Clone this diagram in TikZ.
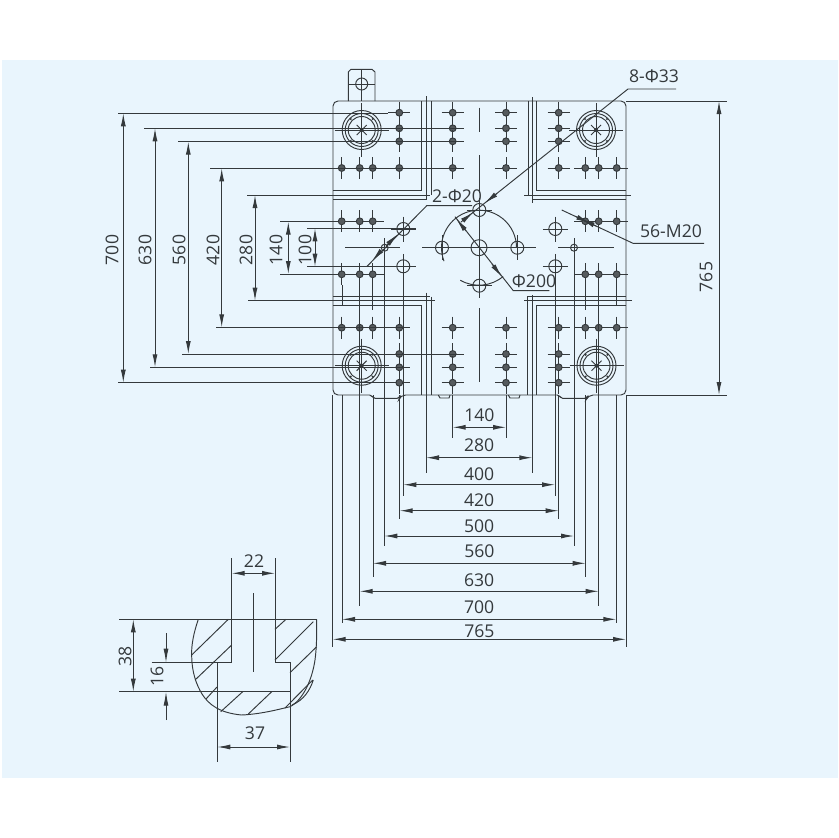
\documentclass[tikz,border=0pt]{standalone}
\usepackage{fontspec}
\setmainfont{Open Sans}
\usetikzlibrary{arrows.meta}
\definecolor{panelblue}{HTML}{E9F5FD}
\definecolor{inkgray}{HTML}{34393C}
\definecolor{holegray}{HTML}{565B5E}
\tikzstyle{thinline} = [draw=inkgray, line width=0.95pt]
\tikzstyle{heavyline} = [draw=inkgray, line width=0.95pt]
\tikzstyle{dimline} = [draw=inkgray, line width=0.95pt, {Latex[length=13pt,width=5pt]}-{Latex[length=13pt,width=5pt]}]
\tikzstyle{pointer} = [draw=inkgray, line width=0.95pt, -{Latex[length=14pt,width=5pt]}]
\tikzstyle{dimtext} = [text=inkgray, font=\fontsize{17.6}{20}\selectfont, inner sep=0pt]
\tikzstyle{sidetext} = [dimtext, rotate=90]
\newcommand{\holemark}[2]{
\draw[thinline] (#1-11,#2) -- (#1+11,#2) (#1,#2-11) -- (#1,#2+11);
\draw[thinline, fill=holegray] (#1,#2) circle [radius=3.4pt];
}
\newcommand{\borehole}[3]{
\draw[thinline] (#1-#3-6,#2) -- (#1+#3+6,#2) (#1,#2-#3-6) -- (#1,#2+#3+6);
\draw[heavyline] (#1,#2) circle [radius=#3 pt];
}
\newcommand{\tiebar}[2]{
\draw[thinline] (#1-27,#2) -- (#1+27,#2) (#1,#2-27) -- (#1,#2+27);
\draw[thinline] (#1,#2) circle [radius=19.5pt];
\draw[thinline] (#1,#2) circle [radius=16.5pt];
\draw[thinline] (#1,#2) circle [radius=13.5pt];
\draw[heavyline] (#1-5,#2-5) -- (#1+5,#2+5) (#1-5,#2+5) -- (#1+5,#2-5);
\fill[inkgray] (#1-11,#2-11) circle [radius=1.2pt] (#1+11,#2-11) circle [radius=1.2pt]
  (#1-11,#2+11) circle [radius=1.2pt] (#1+11,#2+11) circle [radius=1.2pt] (#1,#2) circle [radius=2pt];
}
% name, left x, right x, line y, label y, end of the witness lines
\newcommand{\widthdim}[6]{
\draw[thinline] (#2,395) -- (#2,#6) (#3,395) -- (#3,#6);
\draw[dimline] (#2,#4) -- (#3,#4);
\node[dimtext] (w#1) at ({(#2+#3)/2},#5) {#1};
}
% name, top y, bottom y, line x, label x, start of top and bottom witness lines
\newcommand{\heightdim}[7]{
\draw[thinline] (#6,#2) -- (333,#2) (#7,#3) -- (333,#3);
\draw[dimline] (#4,#2) -- (#4,#3);
\node[sidetext] (h#1) at (#5,250) {#1};
}
\begin{document}
\begin{tikzpicture}[x=1pt,y=-1pt]
\useasboundingbox (0,0) rectangle (838,838);
\fill[panelblue] (2,60) rectangle (838,778);

% plate
\draw[heavyline, rounded corners=5pt] (333,101) -- (626,101) -- (626,395) -- (588,395) [rounded corners=2pt] -- (586.7,398.3) -- (560.5,398.3) -- (559.3,395) [rounded corners=5pt] -- (400.5,395) [rounded corners=2pt] -- (399.3,398.3) -- (373,398.3) -- (371.7,395) [rounded corners=5pt] -- (333,395) -- cycle;
\draw[heavyline] (348.3,101) -- (348.3,72) -- (351,69.3) -- (372,69.3) -- (375,72) -- (375,101);
\draw[thinline] (348.3,84) -- (375,84) (361.7,69.3) -- (361.7,101);
\draw[heavyline] (361.7,84) circle [radius=6pt];
\draw[thinline] (438.3,395) -- (440,398) -- (449,398) -- (450,395) (508.3,395) -- (510,398) -- (519,398) -- (520,395);

% slots
\draw[thinline] (333,190.7) -- (421.7,190.7) -- (421.7,101) (333,199.3) -- (426,199.3) (431,101) -- (431,195);
\draw[thinline] (320,195) -- (430,195) (426,96) -- (426,200);
\draw[thinline] (626,190.7) -- (536.7,190.7) -- (536.7,101) (626,199.3) -- (532.3,199.3) (528.3,101) -- (528.3,195);
\draw[thinline] (630.7,195) -- (524,195) (532.3,97) -- (532.3,202.7);
\draw[thinline] (333,305) -- (421.7,305) -- (421.7,395) (333,296.7) -- (430,296.7) (431,296.7) -- (431,395);
\draw[thinline] (320,300.7) -- (435,300.7) (426,292.7) -- (426,395);
\draw[thinline] (626,305) -- (536.7,305) -- (536.7,395) (626,296.7) -- (527.3,296.7) -- (527.3,395);
\draw[thinline] (632,300.7) -- (524,300.7) (532.3,295) -- (532.3,395);

% centre lines
\draw[thinline] (479,107.7) -- (479,131.7) (479,155) -- (479,193) (479,223) -- (479,280) (479,308.3) -- (479,381.7);
\draw[thinline] (345,247.7) -- (400,247.7) (422,247.7) -- (468,247.7) (490,247.7) -- (536,247.7) (558,247.7) -- (614,247.7);

% threaded holes
\foreach \xpos in {399.3,452.7,506,558.7} {
  \foreach \ypos in {112.7,128.3,141.3,168,327.7,354,367.3,382.7} {
    \holemark{\xpos}{\ypos}
  }
}
\foreach \xpos in {341.7,359.7,372.7,585.3,598.7,616.7} {
  \foreach \ypos in {168,221.3,274.3,327.7} {
    \holemark{\xpos}{\ypos}
  }
}

% tie bars
\tiebar{361.7}{130}
\tiebar{596}{130}
\tiebar{361.7}{365.7}
\tiebar{596.5}{365.7}

% centre ring
\borehole{479}{247.7}{8}
\borehole{442}{247.7}{6.5}
\borehole{517.3}{247.7}{6.5}
\borehole{479.3}{210}{6.5}
\borehole{479.3}{285.7}{6.5}
\borehole{403.3}{229}{6.5}
\borehole{403.3}{266.3}{6.5}
\borehole{555.3}{229}{6.5}
\borehole{555.3}{266.3}{6.5}
\borehole{384.7}{247.7}{3.5}
\borehole{574}{247.7}{3.5}
\draw[thinline] (444,261.1) arc [start angle=201, end angle=0, radius=37.5pt];
\draw[thinline] (460.25,280.2) arc [start angle=240, end angle=310, radius=37.5pt];

% left dimensions
\heightdim{700}{113.3}{382.7}{123.3}{112}{118}{118}
\heightdim{630}{128.3}{367.3}{155}{145}{144}{150}
\heightdim{560}{141.7}{354}{188.3}{179}{178}{182}
\heightdim{420}{168.3}{327.3}{221.7}{213}{210}{216}
\heightdim{280}{195}{300.7}{255}{246}{247}{248}
\heightdim{140}{221.7}{274}{288.3}{276}{280}{280}
\heightdim{100}{228.3}{266.7}{315}{305}{307}{307}
\draw[thinline] (333,228.3) -- (416,228.3) (333,266.7) -- (416,266.7);
\draw[thinline] (333,113.3) -- (388,113.3) (333,128.3) -- (463,128.3) (333,141.7) -- (463,141.7) (333,168.3) -- (463,168.3);
\draw[thinline] (333,382.7) -- (388,382.7) (333,367.3) -- (410,367.3) (333,354) -- (463,354) (333,327.3) -- (410,327.3);

% right dimension
\draw[thinline] (626,101) -- (727,101) (626,395) -- (727,395);
\draw[dimline] (719,101) -- (719,395);
\node[sidetext] (h765) at (706,277) {765};

% bottom dimensions
\widthdim{140}{452.7}{506}{427.3}{415}{438}
\widthdim{280}{426}{532.3}{457.7}{445}{472.7}
\widthdim{400}{403.3}{555}{484.7}{474}{496}
\widthdim{420}{399.7}{558.7}{510.7}{500}{519.3}
\widthdim{500}{384.3}{574}{536}{526}{546}
\widthdim{560}{373}{585.7}{563.3}{551}{576.7}
\widthdim{630}{359.7}{598.7}{591.3}{580}{606}
\widthdim{700}{342}{616.3}{619.3}{607}{623}
\widthdim{765}{332.7}{626}{639.3}{631}{647.3}
\draw[thinline] (403.3,272) -- (403.3,395) (555.3,272) -- (555.3,395) (384.3,252) -- (384.3,395) (574,252) -- (574,395);
\draw[thinline] (359.7,285) -- (359.7,395) (598.7,285) -- (598.7,395) (342,285) -- (342,305) (372.7,285) -- (372.7,310) (585.7,285) -- (585.7,310) (616.5,285) -- (616.5,305);

% leaders
\draw[thinline] (676,89) -- (628,89) -- (463,220.4);
\draw[pointer] (497,193.4) -- (484.5,203.3);
\draw[pointer] (461,222) -- (473.7,212);
\node[dimtext] (lbigbore) at (654,76) {8-Φ33};
\draw[thinline] (472,205.7) -- (426.7,205.7) -- (366.7,266.7);
\draw[pointer] (386,246) -- (398,234);
\draw[pointer] (381,251) -- (372,261);
\node[dimtext] (lring) at (457,196) {2-Φ20};
\draw[thinline] (549.3,290.7) -- (513.3,290.7) -- (455,216.7);
\draw[pointer] (466,231) -- (456,218.5);
\draw[pointer] (492,264) -- (502,277);
\node[dimtext] (lcircle) at (534,281) {Φ200};
\draw[thinline] (704,243.3) -- (633,243.3) -- (561.7,210);
\draw[pointer] (596,226) -- (581,219);
\draw[pointer] (575,216.2) -- (590,223.2);
\node[dimtext] (lthread) at (671,231) {56-M20};

% T-slot section
\draw[thinline] (231.7,558) -- (231.7,662.7) -- (217.3,662.7) -- (217.3,761.7);
\draw[thinline] (275,558) -- (275,662.7) -- (290,662.7) -- (290,761.7);
\draw[thinline] (119.3,619.3) -- (316.7,619.3);
\draw[thinline] (119.3,691.7) -- (290,691.7) (151.7,662.7) -- (231.7,662.7);
\draw[thinline] (253.7,593.3) -- (253.7,672.3);
\draw[thinline] (198.3,619.3) .. controls (194,632) and (191,645) .. (191.7,656.7) .. controls (192,672) and (196,684) .. (202,694) .. controls (209,705) and (220,713) .. (241.7,715) .. controls (262,714) and (280,709) .. (290,706.7) .. controls (303,700) and (312,680) .. (315,660) .. controls (317,645) and (316.7,630) .. (316.7,619.3);
\draw[thinline] (191.7,655) -- (228.3,619.3) (195,680) -- (231.7,645) (206,699) -- (217,687) (220.7,711.7) -- (242.7,691.7) (248.3,714) -- (271.7,691.7);
\draw[thinline] (275,629.3) -- (286,619.3) (275,660) -- (313.3,621.7) (290,672.7) -- (316.7,646.7) (285,708) -- (312.7,680) (292,705) .. controls (304,700) and (310,690) .. (313.3,680);
\draw[dimline] (231.7,573.3) -- (275,573.3);
\node[dimtext] (slotneck) at (254,561) {22};
\draw[dimline] (217.3,747) -- (290,747);
\node[dimtext] (slotbase) at (255,733) {37};
\draw[dimline] (133.3,619.3) -- (133.3,691.7);
\node[sidetext] (slotdepth) at (125,656) {38};
\draw[pointer] (166,633.3) -- (166,662.7);
\draw[pointer] (166,720) -- (166,691.7);
\node[sidetext] (slotstep) at (157,676) {16};
\end{tikzpicture}
\end{document}
